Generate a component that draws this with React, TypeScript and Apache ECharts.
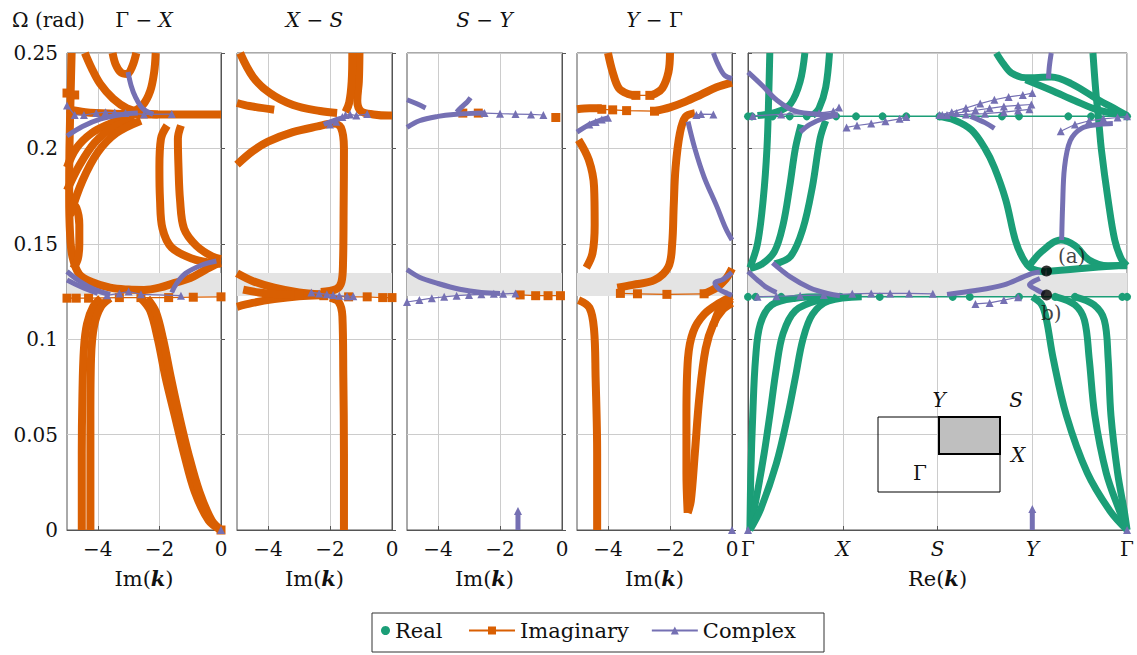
import React, { useEffect, useRef } from 'react';
import * as echarts from 'echarts';

const FONT = 'DejaVu Serif';
const COLOR_REAL = '#1b9e77';
const COLOR_IMAG = '#d95f02';
const COLOR_CPLX = '#7570b3';

// axes
const omegaMin = 0;
const omegaMax = 0.25;
const omegaStep = 0.05;
const imMin = -5;
const imMax = 0;
const imTicks = [-4, -2, 0];
const reTickLabels = ['Γ', 'X', 'S', 'Y', 'Γ'];
const panelTitles = [['Γ', 'X'], ['X', 'S'], ['S', 'Y'], ['Y', 'Γ']];
const bandRange = [0.1226, 0.1347];
const modeDots = [[3.15, 0.1357], [3.15, 0.1232]];
const modeDotLabels = ['(a)', 'b)'];

// ---------- Panel 1 : Γ − X ----------
const gxImag = [
  [[-4.85, 0.25], [-4.88, 0.23], [-4.92, 0.2], [-4.93, 0.175], [-4.9, 0.155], [-4.82, 0.143], [-4.6, 0.134], [-4.2, 0.13], [-3.6, 0.127], [-3, 0.126], [-2.5, 0.1258], [-2, 0.127], [-1.5, 0.1295], [-1, 0.132], [-0.6, 0.1355], [-0.2, 0.139], [0, 0.14]],
  [[-4.9, 0.172], [-4.7, 0.169], [-4.6, 0.16], [-4.6, 0.15], [-4.65, 0.142], [-4.8, 0.137]],
  [[-3.9, 0.1215], [-4.15, 0.117], [-4.35, 0.108], [-4.45, 0.095], [-4.5, 0.07], [-4.52, 0.04], [-4.52, 0]],
  [[-3.6, 0.1215], [-3.9, 0.117], [-4.12, 0.107], [-4.22, 0.09], [-4.24, 0.06], [-4.24, 0.03], [-4.24, 0]],
  [[-2.6, 0.1215], [-2.3, 0.115], [-2.05, 0.1], [-1.8, 0.08], [-1.5, 0.06], [-1.2, 0.04], [-0.85, 0.02], [-0.4, 0.005], [0, 0]],
  [[-2.4, 0.1215], [-2.12, 0.1145], [-1.88, 0.1], [-1.63, 0.08], [-1.36, 0.06], [-1.06, 0.04], [-0.7, 0.02], [-0.3, 0.005], [0, 0]],
  [[-1.75, 0.212], [-1.95, 0.205], [-2.0, 0.19], [-1.98, 0.173], [-1.9, 0.158], [-1.6, 0.148], [-0.9, 0.142], [-0.3, 0.14], [0, 0.1395]],
  [[-1.3, 0.212], [-1.4, 0.205], [-1.38, 0.19], [-1.33, 0.173], [-1.2, 0.158], [-0.8, 0.149], [-0.3, 0.1435], [0, 0.142]],
  [[-5, 0.19], [-4.7, 0.2], [-4.2, 0.208], [-3.6, 0.213], [-3, 0.2165]],
  [[-5, 0.178], [-4.6, 0.191], [-4.1, 0.203], [-3.5, 0.211], [-2.8, 0.2155]],
  [[-4.9, 0.165], [-4.5, 0.183], [-4.0, 0.198], [-3.4, 0.208], [-2.6, 0.2145]],
  [[-4.42, 0.25], [-4.2, 0.242], [-3.93, 0.234], [-3.5, 0.226], [-3.05, 0.221], [-2.5, 0.2185], [-2.05, 0.2178]],
  [[-3.52, 0.25], [-3.42, 0.244], [-3.25, 0.2398], [-3.05, 0.239], [-2.88, 0.243], [-2.75, 0.25]],
  [[-2.12, 0.25], [-2.17, 0.24], [-2.3, 0.23], [-2.55, 0.2225], [-2.9, 0.219], [-3.2, 0.218]],
  [[-5, 0.2205], [-4.4, 0.219], [-3.5, 0.2182], [-2.5, 0.2178], [-1.5, 0.2178], [-0.5, 0.2178], [0, 0.2178]],
];
const gxImagMarked = [
  [[-5, 0.1215], [-4.7, 0.1215], [-4.3, 0.1215], [-3.3, 0.1218], [-2.6, 0.1218], [-1.7, 0.1218], [-0.9, 0.122], [0, 0.1222]],
  [[-5, 0.229], [-4.75, 0.228]],
  [[0, 0]],
];
const gxCplx = [
  [[-3.02, 0.24], [-2.92, 0.233], [-2.78, 0.227], [-2.55, 0.221], [-2.2, 0.2178]],
  [[-5, 0.2065], [-4.5, 0.2115], [-3.9, 0.2155], [-3.2, 0.2178], [-2.7, 0.2185]],
  [[-5, 0.1355], [-4.6, 0.1305], [-4.1, 0.126], [-3.6, 0.1235]],
  [[-5, 0.131], [-4.55, 0.1275], [-4.0, 0.124]],
  [[-1.6, 0.1245], [-1.45, 0.129], [-1.15, 0.1345], [-0.6, 0.139], [-0.15, 0.141]],
];
const gxCplxMarked = [
  [[-5, 0.2225], [-4.75, 0.2175], [-4.45, 0.2175], [-4.05, 0.2185], [-3.75, 0.219], [-3.45, 0.2188], [-3.1, 0.2185], [-2.5, 0.2178], [-1.6, 0.218]],
  [[-3.7, 0.123], [-3.3, 0.124], [-3.0, 0.125], [-2.6, 0.1235], [-1.3, 0.1228]],
  [[0, 0]],
];

// ---------- Panel 2 : X − S ----------
const xsImag = [
  [[-4.9, 0.25], [-4.48, 0.2374], [-3.94, 0.229], [-3.19, 0.2227], [-2.32, 0.2196], [-1.77, 0.2186]],
  [[-5.0, 0.1915], [-4.5, 0.1985], [-4, 0.2035], [-3.2, 0.2085], [-2.4, 0.2115], [-1.9, 0.213], [-1.65, 0.211], [-1.55, 0.2], [-1.56, 0.17], [-1.58, 0.14], [-1.63, 0.13], [-1.8, 0.1262], [-2.3, 0.1248]],
  [[-2.0, 0.1218], [-1.72, 0.1195], [-1.6, 0.112], [-1.57, 0.08], [-1.55, 0.04], [-1.55, 0]],
  [[-1.05, 0.25], [-1.07, 0.235], [-1.12, 0.225], [-1.0, 0.2195], [-0.6, 0.2178], [-0.1, 0.2172], [0, 0.2172]],
  [[-1.28, 0.25], [-1.3, 0.235], [-1.38, 0.224], [-1.5, 0.219]],
  [[-5, 0.1345], [-4.5, 0.1305], [-3.8, 0.127], [-3.0, 0.1245], [-2.3, 0.1235]],
  [[-5, 0.117], [-4.5, 0.119], [-3.8, 0.121], [-3.0, 0.1225], [-2.3, 0.123]],
  [[-4.8, 0.126], [-4.3, 0.1245], [-3.7, 0.1235], [-3, 0.123]],
  [[-5, 0.2238], [-4.6, 0.2222], [-3.8, 0.2203]],
];
const xsImagMarked = [
  [[-3, 0.123], [-2.2, 0.1228], [-1.4, 0.1222], [-0.8, 0.1222], [-0.3, 0.1218], [0, 0.1218]],
];
const xsCplx = [
  [[-2.2, 0.2125], [-1.9, 0.2145], [-1.6, 0.216]],
];
const xsCplxMarked = [
  [[-2.0, 0.2125], [-1.8, 0.214], [-1.6, 0.2165], [-1.5, 0.2175], [-1.35, 0.2178], [-1.15, 0.2172], [-0.8, 0.218]],
  [[-2.6, 0.1245], [-2.35, 0.124], [-2.1, 0.1235], [-1.9, 0.1232], [-1.7, 0.1228], [-1.45, 0.1225], [-1.25, 0.1225]],
];

// ---------- Panel 3 : S − Y ----------
const syImag: number[][][] = [];
const syImagMarked = [
  [[-3.2, 0.2185], [-2.7, 0.2185]],
  [[-0.2, 0.2162]],
  [[-1.35, 0.1232], [-0.85, 0.1228], [-0.45, 0.1228], [-0.05, 0.1228]],
];
const syCplx = [
  [[-5, 0.2255], [-4.7, 0.2235], [-4.4, 0.2212]],
  [[-5, 0.211], [-4.6, 0.2145], [-4.0, 0.2168], [-3.5, 0.2178], [-2.5, 0.2185]],
  [[-3.4, 0.219], [-3.25, 0.2215], [-3.05, 0.2245], [-2.95, 0.2265]],
  [[-5, 0.1365], [-4.6, 0.1325], [-4, 0.1292], [-3.3, 0.1262], [-2.6, 0.1245], [-2.0, 0.124]],
  [[-1.42, 0], [-1.42, 0.009]],
];
const syCplxMarked = [
  [[-2.5, 0.2185], [-2, 0.2182], [-1.5, 0.218], [-1, 0.2178], [-0.6, 0.2175]],
  [[-5, 0.1195], [-4.6, 0.1205], [-4.2, 0.1215], [-3.8, 0.1222], [-3.4, 0.1228], [-3, 0.1232], [-2.6, 0.1235], [-2.2, 0.1238], [-1.9, 0.1238], [-1.5, 0.124]],
  [[-1.42, 0.01]],
];

// ---------- Panel 4 : Y − Γ ----------
const ygImag = [
  [[-4.0, 0.25], [-3.85, 0.24], [-3.65, 0.2315], [-3.35, 0.2285], [-3.1, 0.2278]],
  [[-2.0, 0.25], [-2.05, 0.24], [-2.25, 0.2315], [-2.5, 0.2285], [-2.65, 0.2278]],
  [[-2.5, 0.2195], [-2, 0.2215], [-1.5, 0.2245], [-1, 0.2282], [-0.5, 0.232], [0, 0.2345]],
  [[-5, 0.2205], [-4.6, 0.221], [-4.2, 0.221]],
  [[-4.95, 0.2045], [-4.62, 0.194], [-4.45, 0.18], [-4.43, 0.16], [-4.5, 0.145], [-4.7, 0.1375]],
  [[-1.2, 0.2185], [-1.5, 0.2165], [-1.68, 0.208], [-1.82, 0.19], [-1.88, 0.17], [-1.93, 0.15], [-2.05, 0.138], [-2.5, 0.131], [-3.2, 0.1285], [-3.7, 0.127]],
  [[-0.9, 0.1238], [-0.5, 0.127], [-0.2, 0.1315], [0, 0.137]],
  [[-4.95, 0.1205], [-4.6, 0.1165], [-4.45, 0.105], [-4.4, 0.08], [-4.35, 0.04], [-4.35, 0]],
  [[0, 0.1225], [-0.4, 0.119], [-0.9, 0.113], [-1.25, 0.104], [-1.42, 0.09], [-1.47, 0.06], [-1.47, 0.03], [-1.43, 0.009]],
  [[0, 0.119], [-0.3, 0.1155], [-0.6, 0.108], [-0.85, 0.095], [-1.05, 0.07], [-1.2, 0.04], [-1.33, 0.015], [-1.43, 0.009]],
  [[0, 0.1212], [-0.25, 0.1185], [-0.45, 0.114], [-0.6, 0.107]],
];
const ygImagMarked = [
  [[-3.1, 0.2278], [-2.65, 0.2278]],
  [[-4.2, 0.2205], [-3.85, 0.2202], [-3.4, 0.2198], [-2.5, 0.2195]],
  [[-3.6, 0.124], [-3.05, 0.1238], [-2.1, 0.1235], [-0.9, 0.1238]],
];
const ygCplx = [
  [[-5, 0.2085], [-4.6, 0.2125], [-4.3, 0.2145], [-4.0, 0.216]],
  [[-1.42, 0.214], [-1.2, 0.2], [-0.9, 0.185], [-0.5, 0.17], [-0.2, 0.158], [0, 0.152]],
  [[-0.6, 0.25], [-0.45, 0.244], [-0.25, 0.2385], [0, 0.2365]],
  [[0, 0.135], [-0.3, 0.1312], [-0.55, 0.1295], [-0.4, 0.126], [-0.15, 0.124], [0, 0.123]],
];
const ygCplxMarked = [
  [[-4.6, 0.2125], [-4.4, 0.2138], [-4.2, 0.2152], [-4.0, 0.216]],
  [[-1.15, 0.2175], [-1.0, 0.218], [-0.6, 0.2178]],
  [[0, 0]],
];

// ---------- Panel 5 : Re(k) along Γ X S Y Γ ----------
const reReal = [
  [[0.23, 0.25], [0.22, 0.23], [0.2, 0.2], [0.16, 0.173], [0.1, 0.15], [0.02, 0.1375]],
  [[0.6, 0.25], [0.55, 0.235], [0.45, 0.2235], [0.3, 0.219], [0.1, 0.2172]],
  [[0.86, 0.25], [0.82, 0.232], [0.75, 0.221], [0.68, 0.2172]],
  [[0.56, 0.2125], [0.5, 0.2], [0.44, 0.18], [0.37, 0.16], [0.28, 0.146], [0.15, 0.1395], [0.02, 0.137]],
  [[0.82, 0.2145], [0.76, 0.205], [0.68, 0.18], [0.58, 0.158], [0.45, 0.1435], [0.28, 0.1395]],
  [[0.02, 0], [0.03, 0.03], [0.05, 0.06], [0.08, 0.09], [0.13, 0.108], [0.25, 0.118], [0.5, 0.1215], [0.8, 0.1222]],
  [[0.02, 0], [0.1, 0.02], [0.17, 0.04], [0.23, 0.06], [0.3, 0.085], [0.37, 0.103], [0.5, 0.115], [0.75, 0.1205], [1.0, 0.1222]],
  [[0.02, 0], [0.13, 0.0105], [0.3, 0.035], [0.42, 0.06], [0.5, 0.08], [0.58, 0.1], [0.68, 0.113], [0.85, 0.12], [1.2, 0.1222]],
  [[3.0, 0.1222], [3.1, 0.118], [3.15, 0.11], [3.22, 0.09], [3.36, 0.06], [3.58, 0.03], [3.82, 0.01], [4, 0]],
  [[3.25, 0.1222], [3.45, 0.118], [3.55, 0.11], [3.6, 0.09], [3.66, 0.06], [3.78, 0.03], [3.92, 0.01], [4, 0]],
  [[3.45, 0.1222], [3.65, 0.118], [3.76, 0.11], [3.8, 0.09], [3.83, 0.06], [3.9, 0.03], [3.97, 0.01], [4, 0]],
  [[2.0, 0.2168], [2.18, 0.2148], [2.36, 0.2096], [2.5, 0.2], [2.6, 0.19], [2.72, 0.173], [2.82, 0.152], [2.9, 0.1425], [2.98, 0.1375], [3.14, 0.1352]],
  [[2.95, 0.1372], [3.1, 0.146], [3.3, 0.152], [3.45, 0.149], [3.6, 0.1415], [3.8, 0.1385], [4, 0.1385]],
  [[3.64, 0.25], [3.67, 0.23], [3.7, 0.215], [3.73, 0.199], [3.8, 0.173], [3.87, 0.152], [3.94, 0.142], [4, 0.1385]],
  [[2.62, 0.25], [2.7, 0.244], [2.78, 0.2395], [2.93, 0.237], [3.2, 0.2374], [3.41, 0.234], [3.7, 0.2254], [3.9, 0.22], [4, 0.2172]],
  [[2.93, 0.236], [3.2, 0.2305], [3.45, 0.225], [3.7, 0.22], [4, 0.2172]],
  [[3.15, 0.1355], [3.4, 0.1365], [3.7, 0.1378], [4.0, 0.139]],
];
const reRealMarked = [
  [[0, 0.2168], [0.04, 0.2168], [0.26, 0.2168], [0.44, 0.2168], [0.62, 0.2168], [0.93, 0.2168], [1.14, 0.2168], [1.42, 0.2168], [1.67, 0.2168], [2.02, 0.2168], [2.68, 0.2168], [2.86, 0.2168], [3.38, 0.2168], [3.62, 0.2168], [4, 0.2168]],
  [[0, 0.1222], [0.08, 0.1222], [0.35, 0.1222], [0.97, 0.1222], [1.39, 0.1222], [2.16, 0.1222], [2.34, 0.1222], [2.86, 0.1222], [3.24, 0.1222], [3.45, 0.1222], [3.95, 0.1222], [4, 0.1222]],
];
const reCplx = [
  [[0, 0.24], [0.15, 0.233], [0.3, 0.2255], [0.5, 0.2195], [0.8, 0.2178], [0.95, 0.2175]],
  [[0.55, 0.2085], [0.65, 0.2125], [0.8, 0.2158], [0.95, 0.2175]],
  [[2.35, 0.2168], [2.5, 0.2135], [2.6, 0.2105]],
  [[3.2, 0.25], [3.18, 0.243], [3.17, 0.2365]],
  [[3.31, 0.152], [3.32, 0.17], [3.34, 0.19], [3.4, 0.204], [3.52, 0.2105], [3.7, 0.2125], [3.85, 0.213]],
  [[0, 0.1355], [0.1, 0.131], [0.2, 0.127], [0.3, 0.1245]],
  [[0.26, 0.14], [0.45, 0.1325], [0.65, 0.127], [0.85, 0.1238], [0.97, 0.1228]],
  [[2.1, 0.1235], [2.4, 0.1255], [2.7, 0.1285], [2.9, 0.1325], [3.0, 0.1345], [3.08, 0.1352]],
  [[3.08, 0.1318], [2.97, 0.1285], [3.05, 0.1258], [3.13, 0.1238]],
  [[3.0, 0], [3.0, 0.01]],
];
const reCplxMarked = [
  [[1.04, 0.211], [1.15, 0.212], [1.3, 0.213], [1.45, 0.2142], [1.6, 0.2155], [1.67, 0.2165]],
  [[2.02, 0.2175], [2.15, 0.219], [2.3, 0.2212], [2.45, 0.2235], [2.6, 0.2255], [2.75, 0.227], [2.9, 0.228], [3.0, 0.229]],
  [[2.05, 0.2175], [2.2, 0.2185], [2.4, 0.22], [2.55, 0.221], [2.7, 0.222], [2.85, 0.2225], [2.99, 0.223]],
  [[2.1, 0.2175], [2.3, 0.2178], [2.5, 0.2182], [2.7, 0.219], [2.85, 0.2198], [2.97, 0.2205]],
  [[3.3, 0.209], [3.45, 0.2125], [3.6, 0.2145], [3.75, 0.2155], [3.9, 0.2162], [4.0, 0.2168]],
  [[0.1, 0.1222], [0.3, 0.1225], [0.55, 0.1228], [0.8, 0.1232], [1.1, 0.1238], [1.3, 0.124], [1.5, 0.124], [1.7, 0.124], [1.95, 0.1238]],
  [[0.05, 0.217], [0.35, 0.2178], [0.75, 0.2185], [0.9, 0.2195], [0.96, 0.2215]],
  [[2.4, 0.1185], [2.55, 0.119], [2.7, 0.1205], [2.85, 0.122]],
  [[3.0, 0.011]],
  [[0, 0]],
  [[4, 0]],
];

const panelImag = [gxImag, xsImag, syImag, ygImag, []];
const panelImagMarked = [gxImagMarked, xsImagMarked, syImagMarked, ygImagMarked, []];
const panelCplx = [gxCplx, xsCplx, syCplx, ygCplx, reCplx];
const panelCplxMarked = [gxCplxMarked, xsCplxMarked, syCplxMarked, ygCplxMarked, reCplxMarked];
const panelReal = [[], [], [], [], reReal];
const panelRealMarked = [[], [], [], [], reRealMarked];

// layout (pixels)
const GRIDS = [
  { left: 67, top: 53, width: 154, height: 477 },
  { left: 237, top: 53, width: 155, height: 477 },
  { left: 407, top: 53, width: 155, height: 477 },
  { left: 577, top: 53, width: 155, height: 477 },
  { left: 748, top: 53, width: 381, height: 477 },
];

const TXT = '#111';
const makeRich = (size: number) => {
  const base = { fontFamily: FONT, fontSize: size, color: TXT };
  return {
    r: { ...base, fontStyle: 'normal' },
    i: { ...base, fontStyle: 'italic' },
    b: { ...base, fontStyle: 'italic', fontWeight: 'bold' },
  };
};
const rich = makeRich(20);
const richName = makeRich(21);

const fmtMinus = (v: number) => (v < 0 ? '\u2212' + Math.abs(v) : String(v));

function thick(curves: number[][][], gi: number, color: string, width: number, z: number) {
  return curves.map((data) => ({
    type: 'line', xAxisIndex: gi, yAxisIndex: gi, data, smooth: 0.35,
    symbol: 'none', showSymbol: false, silent: true, z,
    lineStyle: { color, width, cap: 'butt', join: 'round' },
    itemStyle: { color },
  }));
}
function marked(curves: number[][][], gi: number, color: string, symbol: string, size: number, width: number, z: number) {
  return curves.map((data) => ({
    type: 'line', xAxisIndex: gi, yAxisIndex: gi, data, smooth: false,
    symbol, symbolSize: size, showSymbol: true, showAllSymbol: true, silent: true, z,
    lineStyle: { color, width }, itemStyle: { color },
  }));
}

function buildOption() {
  const grid = GRIDS.map((g) => ({ ...g, show: true, borderColor: '#555', borderWidth: 1, backgroundColor: 'transparent' }));
  const yAxis = GRIDS.map((_, i) => ({
    type: 'value', gridIndex: i, min: omegaMin, max: omegaMax, interval: omegaStep,
    axisLine: { show: true, lineStyle: { color: '#555' } },
    axisTick: { show: true, inside: true, length: 4, lineStyle: { color: '#555' } },
    axisLabel: { show: i === 0, fontFamily: FONT, fontSize: 20, color: TXT, margin: 9 },
    splitLine: { show: true, lineStyle: { color: '#cccccc', width: 1 } },
  }));
  const xAxis: any[] = GRIDS.slice(0, 4).map((_, i) => ({
    type: 'value', gridIndex: i, min: imMin, max: imMax,
    axisLine: { show: true, onZero: false, lineStyle: { color: '#555' } },
    axisTick: { show: true, inside: true, length: 4, customValues: imTicks, lineStyle: { color: '#555' } },
    axisLabel: { customValues: imTicks, formatter: fmtMinus, fontFamily: FONT, fontSize: 20, color: TXT, margin: 9 },
    splitLine: { show: true, lineStyle: { color: '#cccccc', width: 1 } },
    name: 'Im({b|k})', nameLocation: 'middle', nameGap: 38,
    nameTextStyle: { fontFamily: FONT, fontSize: 21, color: TXT, rich: richName },
  }));
  xAxis.push({
    type: 'value', gridIndex: 4, min: 0, max: reTickLabels.length - 1, interval: 1,
    axisLine: { show: true, onZero: false, lineStyle: { color: '#555' } },
    axisTick: { show: true, inside: true, length: 4, lineStyle: { color: '#555' } },
    axisLabel: {
      formatter: (v: number) => {
        const t = reTickLabels[Math.round(v)];
        return t === 'Γ' ? '{r|Γ}' : '{i|' + t + '}';
      },
      rich, fontFamily: FONT, fontSize: 20, color: TXT, margin: 9,
    },
    splitLine: { show: true, lineStyle: { color: '#cccccc', width: 1 } },
    name: 'Re({b|k})', nameLocation: 'middle', nameGap: 38,
    nameTextStyle: { fontFamily: FONT, fontSize: 21, color: TXT, rich: richName },
  });

  const series: any[] = [
    { type: 'line', name: 'Real', data: [], xAxisIndex: 0, yAxisIndex: 0, symbol: 'circle', symbolSize: 8, lineStyle: { color: COLOR_REAL, width: 1.2 }, itemStyle: { color: COLOR_REAL } },
    { type: 'line', name: 'Imaginary', data: [], xAxisIndex: 0, yAxisIndex: 0, symbol: 'rect', symbolSize: 9, lineStyle: { color: COLOR_IMAG, width: 1.2 }, itemStyle: { color: COLOR_IMAG } },
    { type: 'line', name: 'Complex', data: [], xAxisIndex: 0, yAxisIndex: 0, symbol: 'triangle', symbolSize: 9, lineStyle: { color: COLOR_CPLX, width: 1.2 }, itemStyle: { color: COLOR_CPLX } },
  ];
  GRIDS.forEach((_, i) => {
    series.push({
      type: 'line', xAxisIndex: i, yAxisIndex: i, data: [], silent: true, z: 1,
      markArea: { silent: true, itemStyle: { color: '#e4e4e4' }, data: [[{ yAxis: bandRange[0] }, { yAxis: bandRange[1] }]] },
    });
  });
  GRIDS.forEach((_, i) => {
    series.push(...thick(panelImag[i], i, COLOR_IMAG, 8, 3));
    series.push(...thick(panelReal[i], i, COLOR_REAL, 7, 3));
    series.push(...marked(panelImagMarked[i], i, COLOR_IMAG, 'rect', 9, 1.2, 4));
    series.push(...marked(panelRealMarked[i], i, COLOR_REAL, 'circle', 8, 1.5, 4));
    series.push(...thick(panelCplx[i], i, COLOR_CPLX, 5, 5));
    series.push(...marked(panelCplxMarked[i], i, COLOR_CPLX, 'triangle', 8, 1.2, 5));
  });
  series.push({
    type: 'scatter', xAxisIndex: 4, yAxisIndex: 4, symbolSize: 11, z: 10, silent: true,
    itemStyle: { color: '#000' },
    data: modeDots.map((p, k) => ({
      value: p,
      label: {
        show: true, formatter: modeDotLabels[k],
        position: k === 0 ? [17, -20] : [0, 14],
        fontFamily: FONT, fontSize: 20, color: TXT,
      },
    })),
  });

  const titleGraphics = panelTitles.map((pair, i) => ({
    type: 'text',
    x: GRIDS[i].left + GRIDS[i].width / 2,
    y: 20,
    style: {
      text: pair.map((p) => (p === 'Γ' ? '{r|Γ}' : '{i|' + p + '}')).join('{r| − }'),
      rich, align: 'center', verticalAlign: 'middle', fontFamily: FONT, fontSize: 20, fill: TXT,
    },
  }));

  const graphic: any[] = [
    { type: 'text', x: 12, y: 20, style: { text: 'Ω (rad)', fontFamily: FONT, fontSize: 20, fill: TXT, align: 'left', verticalAlign: 'middle' } },
    ...titleGraphics,
    // Brillouin zone inset
    { type: 'rect', shape: { x: 878, y: 417, width: 122, height: 75 }, style: { fill: 'none', stroke: '#000', lineWidth: 1 }, z: 20 },
    { type: 'rect', shape: { x: 939, y: 417, width: 61, height: 37 }, style: { fill: '#bfbfbf', stroke: '#000', lineWidth: 2 }, z: 21 },
    { type: 'text', x: 939, y: 400, z: 22, style: { text: 'Y', fontFamily: FONT, fontStyle: 'italic', fontSize: 20, fill: TXT, align: 'center', verticalAlign: 'middle' } },
    { type: 'text', x: 1016, y: 400, z: 22, style: { text: 'S', fontFamily: FONT, fontStyle: 'italic', fontSize: 20, fill: TXT, align: 'center', verticalAlign: 'middle' } },
    { type: 'text', x: 1018, y: 455, z: 22, style: { text: 'X', fontFamily: FONT, fontStyle: 'italic', fontSize: 20, fill: TXT, align: 'center', verticalAlign: 'middle' } },
    { type: 'text', x: 920, y: 473, z: 22, style: { text: 'Γ', fontFamily: FONT, fontSize: 20, fill: TXT, align: 'center', verticalAlign: 'middle' } },
    // legend frame
    { type: 'rect', shape: { x: 372, y: 613, width: 452, height: 39 }, style: { fill: 'none', stroke: '#333', lineWidth: 1 }, z: 20 },
  ];

  const legendText = { fontFamily: FONT, fontSize: 21, color: TXT };
  const legend = [
    { data: [{ name: 'Real', icon: 'circle' }], left: 381, top: 620, padding: 0, itemWidth: 9, itemHeight: 9, textStyle: legendText, selectedMode: false },
    { data: ['Imaginary', 'Complex'], left: 468, top: 620, padding: 0, itemWidth: 46, itemHeight: 10, itemGap: 22, textStyle: legendText, selectedMode: false },
  ];

  return { animation: false, backgroundColor: '#fff', grid, xAxis, yAxis, series, graphic, legend };
}

export default function App() {
  const ref = useRef<HTMLDivElement>(null);
  useEffect(() => {
    document.body.style.margin = '0';
    if (!ref.current) return;
    const chart = echarts.init(ref.current, undefined, { renderer: 'svg' });
    chart.setOption(buildOption() as any);
    return () => chart.dispose();
  }, []);
  return <div ref={ref} style={{ width: 1137, height: 655 }} />;
}
